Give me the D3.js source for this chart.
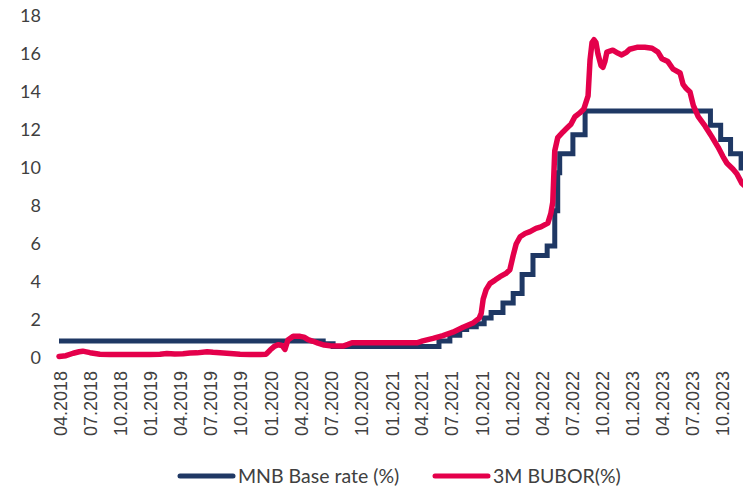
<!DOCTYPE html>
<html>
<head>
<meta charset="utf-8">
<script src="https://cdn.jsdelivr.net/npm/d3@7"></script>
<style>
  body { margin: 0; background: #fff; }
  svg { display: block; }
</style>
</head>
<body>
<svg id="chart"></svg>
<script>
// MNB base rate, step series (date of change, new rate)
const mnbDates = ["2018-04-01", "2020-06-10", "2020-07-10", "2021-05-27", "2021-06-29", "2021-07-29",
    "2021-08-19", "2021-09-17", "2021-10-11", "2021-11-01", "2021-12-07", "2022-01-07", "2022-02-03",
    "2022-03-08", "2022-04-20", "2022-05-13", "2022-05-22", "2022-05-28", "2022-07-07", "2022-08-13",
    "2023-08-28", "2023-09-28", "2023-10-28", "2023-11-29", "2024-01-20"];
const mnbRates = [0.9, 0.75, 0.6, 0.9, 1.2, 1.5, 1.65, 1.8, 2.1, 2.4, 2.9, 3.4, 4.4, 5.4, 5.9, 7.75,
    9.75, 10.75, 11.75, 13.0, 12.25, 11.5, 10.75, 10.0, 10.0];

// 3M BUBOR
const buborDates = ["2018-04-01", "2018-04-22", "2018-05-14", "2018-06-01", "2018-06-12", "2018-07-04",
    "2018-08-03", "2018-09-02", "2018-10-18", "2018-12-02", "2019-01-01", "2019-02-01", "2019-02-22",
    "2019-03-18", "2019-04-12", "2019-05-03", "2019-05-24", "2019-06-24", "2019-07-12", "2019-08-02",
    "2019-09-02", "2019-10-02", "2019-11-01", "2019-12-02", "2019-12-20", "2020-01-01", "2020-01-13",
    "2020-01-25", "2020-02-06", "2020-02-15", "2020-02-24", "2020-03-11", "2020-04-01", "2020-04-13",
    "2020-04-25", "2020-05-10", "2020-05-25", "2020-06-13", "2020-07-01", "2020-08-09", "2020-08-24",
    "2020-09-05", "2020-12-01", "2021-03-21", "2021-04-08", "2021-05-09", "2021-06-08", "2021-07-08",
    "2021-08-08", "2021-09-07", "2021-09-26", "2021-10-02", "2021-10-08", "2021-10-17", "2021-10-29",
    "2021-11-13", "2021-11-28", "2021-12-16", "2021-12-28", "2022-01-07", "2022-01-16", "2022-01-28",
    "2022-02-12", "2022-02-27", "2022-03-17", "2022-04-01", "2022-04-22", "2022-05-01", "2022-05-07",
    "2022-05-13", "2022-05-22", "2022-06-07", "2022-06-19", "2022-07-01", "2022-07-13", "2022-07-28",
    "2022-08-09", "2022-08-22", "2022-08-28", "2022-09-03", "2022-09-09", "2022-09-15", "2022-09-21",
    "2022-09-30", "2022-10-06", "2022-10-12", "2022-10-18", "2022-11-05", "2022-11-20", "2022-12-02",
    "2022-12-17", "2022-12-26", "2023-01-17", "2023-02-10", "2023-03-04", "2023-03-22", "2023-04-03",
    "2023-04-21", "2023-05-07", "2023-05-28", "2023-06-06", "2023-06-15", "2023-06-27", "2023-07-07",
    "2023-07-22", "2023-08-12", "2023-09-01", "2023-09-20", "2023-10-05", "2023-10-17", "2023-11-04",
    "2023-11-16", "2023-12-01", "2023-12-26"];
const buborRates = [0.08, 0.12, 0.25, 0.33, 0.36, 0.28, 0.2, 0.18, 0.18, 0.18, 0.19, 0.2, 0.24,
    0.21, 0.22, 0.26, 0.27, 0.33, 0.3, 0.28, 0.24, 0.2, 0.18, 0.18, 0.2, 0.42, 0.6,
    0.7, 0.66, 0.45, 0.95, 1.15, 1.14, 1.1, 0.97, 0.88, 0.78, 0.68, 0.64, 0.63, 0.72,
    0.8, 0.8, 0.8, 0.9, 1.03, 1.18, 1.36, 1.62, 1.84, 2.1, 2.35, 3.1, 3.6, 3.93,
    4.1, 4.28, 4.45, 4.65, 5.4, 6.0, 6.38, 6.55, 6.65, 6.82, 6.9, 7.1, 7.6, 8.2,
    10.9, 11.6, 11.9, 12.1, 12.3, 12.7, 12.9, 13.1, 13.8, 15.7, 16.6, 16.75, 16.6, 16.0,
    15.4, 15.3, 15.6, 16.1, 16.2, 16.05, 15.95, 16.1, 16.25, 16.35, 16.35, 16.3, 16.1, 15.75,
    15.6, 15.2, 15.0, 14.4, 14.2, 14.0, 13.3, 12.7, 12.2, 11.65, 11.1, 10.6, 10.25, 9.95,
    9.7, 9.2, 8.8];

const xTickDates = ["2018-04-01", "2018-07-01", "2018-10-01", "2019-01-01", "2019-04-01", "2019-07-01",
    "2019-10-01", "2020-01-01", "2020-04-01", "2020-07-01", "2020-10-01", "2021-01-01", "2021-04-01",
    "2021-07-01", "2021-10-01", "2022-01-01", "2022-04-01", "2022-07-01", "2022-10-01", "2023-01-01",
    "2023-04-01", "2023-07-01", "2023-10-01", "2024-01-01"];
const yTicks = [0, 2, 4, 6, 8, 10, 12, 14, 16, 18];

const seriesNames = ["MNB Base rate (%)", "3M BUBOR(%)"];
const seriesColors = ["#1F3864", "#E4004B"];

const width = 743, height = 488;
const parse = d3.utcParse("%Y-%m-%d");

const mnb = mnbDates.map((d, i) => ({ date: parse(d), value: mnbRates[i] }));
const bubor = buborDates.map((d, i) => ({ date: parse(d), value: buborRates[i] }));

const svg = d3.select("#chart").attr("width", width).attr("height", height);

// axis runs past the right edge of the picture, like the cropped original
const x = d3.scaleUtc()
    .domain([parse("2018-04-01"), parse("2024-01-01")])
    .range([59, 752]);

const y = d3.scaleLinear()
    .domain([0, 18])
    .range([358, 16]);

// y axis: labels only
const yAxis = svg.append("g")
    .attr("transform", "translate(41,0)")
    .call(d3.axisLeft(y).tickValues(yTicks).tickSize(0).tickPadding(0));
yAxis.select(".domain").remove();
yAxis.selectAll("text")
    .attr("font-family", "Lato, 'Open Sans', sans-serif")
    .attr("font-size", 18)
    .attr("fill", "#404040");

// x axis: rotated month labels
const xAxis = svg.append("g")
    .attr("transform", "translate(0,371)")
    .call(d3.axisBottom(x)
        .tickValues(xTickDates.map(parse))
        .tickFormat(d3.utcFormat("%m.%Y"))
        .tickSize(0));
xAxis.select(".domain").remove();
xAxis.selectAll("text")
    .attr("font-family", "'Liberation Sans', Arial, sans-serif")
    .attr("font-size", 18)
    .attr("fill", "#404040")
    .attr("text-anchor", "end")
    .attr("transform", "rotate(-90)")
    .attr("x", 0)
    .attr("y", 0)
    .attr("dy", "0.4em");

const stepLine = d3.line()
    .x(d => x(d.date))
    .y(d => y(d.value))
    .curve(d3.curveStepAfter);

const plainLine = d3.line()
    .x(d => x(d.date))
    .y(d => y(d.value));

svg.append("path")
    .datum(mnb)
    .attr("fill", "none")
    .attr("stroke", seriesColors[0])
    .attr("stroke-width", 5)
    .attr("stroke-linejoin", "miter")
    .attr("d", stepLine);

svg.append("path")
    .datum(bubor)
    .attr("fill", "none")
    .attr("stroke", seriesColors[1])
    .attr("stroke-width", 5.5)
    .attr("stroke-linejoin", "round")
    .attr("stroke-linecap", "round")
    .attr("d", plainLine);

// legend
const legendX = [180, 435];
const legend = svg.append("g").attr("transform", "translate(0,476)");
seriesNames.forEach((name, i) => {
    legend.append("line")
        .attr("x1", legendX[i]).attr("x2", legendX[i] + 53)
        .attr("stroke", seriesColors[i])
        .attr("stroke-width", 5)
        .attr("stroke-linecap", "round");
    legend.append("text")
        .attr("x", legendX[i] + 58)
        .attr("dy", "0.35em")
        .attr("font-family", "Lato, 'Open Sans', sans-serif")
        .attr("font-size", 19.5)
        .attr("fill", "#404040")
        .text(name);
});
</script>
</body>
</html>
